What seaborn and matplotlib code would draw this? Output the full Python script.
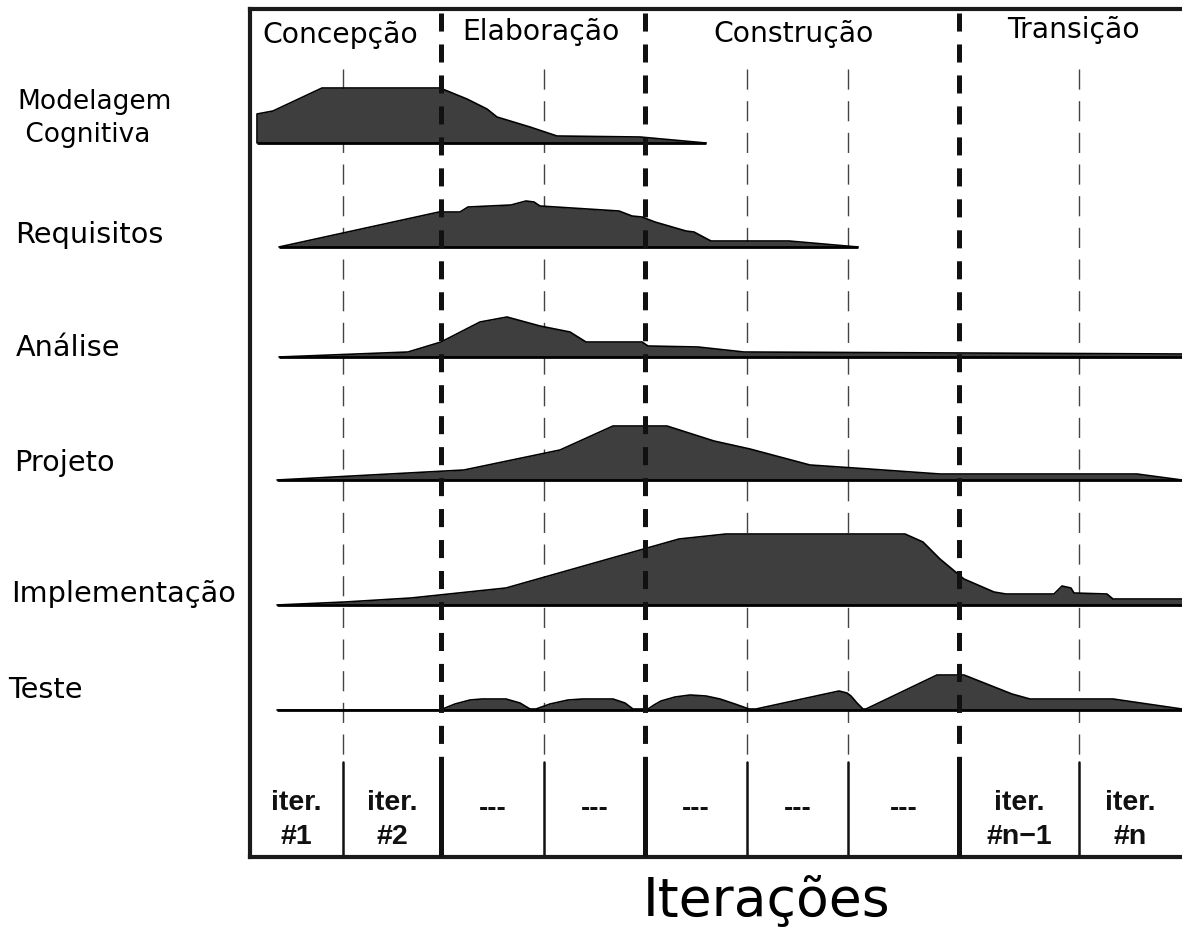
import matplotlib
matplotlib.use("Agg")
import numpy as np
import pandas as pd
import matplotlib.pyplot as plt
import seaborn as sns

# ---------------- data ----------------
# iteration column boundaries (time axis units, 0 = start of project)
boundaries = [0, 93, 191, 294, 395, 497, 598, 709, 829, 932]
phase_bounds = [191, 395, 709]          # thick dashed lines (phase changes)
iter_bounds = [93, 294, 497, 598, 829]  # thin dashed lines

phases = ["Concepção", "Elaboração", "Construção", "Transição"]
iter_labels = ["iter.\n#1", "iter.\n#2", "---", "---", "---", "---", "---",
               "iter.\n#n\u22121", "iter.\n#n"]
disciplines = ["Modelagem\n Cognitiva", "Requisitos", "Análise", "Projeto",
               "Implementação", "Teste"]

# effort profiles: time position and effort (height above the row baseline)
mod_x = [7, 7, 23, 72, 190, 217, 237, 247, 280, 307, 390, 456]
mod_h = [0, 29, 32, 55, 55, 44, 34, 26, 16, 7, 6, 0]

req_x = [29, 189, 210, 218, 261, 276, 284, 290, 369, 382, 392, 405, 436, 444, 461, 539, 608]
req_h = [0, 35, 35, 40, 42, 46, 45, 41, 36, 31, 30, 25, 16, 15, 6, 6, 0]

ana_x = [29, 158, 191, 230, 257, 290, 320, 336, 392, 398, 448, 494, 932]
ana_h = [0, 5, 15, 35, 40, 31, 25, 15, 15, 11, 10, 5, 3]

proj_x = [27, 65, 214, 310, 363, 417, 464, 500, 560, 619, 690, 887, 932]
proj_h = [0, 2, 10, 30, 54, 54, 39, 31, 15, 11, 6, 6, 0]

impl_x = [27, 95, 161, 256, 429, 476, 655, 673, 690, 714, 744, 756, 804, 812,
          821, 824, 857, 863, 932]
impl_h = [0, 3, 7, 17, 66, 71, 71, 63, 46, 26, 13, 11, 11, 19, 17, 12, 11, 6, 6]

test_x = [27, 190, 205, 220, 232, 256, 270, 280, 286, 300, 318, 333, 363, 375,
          383, 398, 404, 411, 425, 440, 456, 470, 485, 499, 506, 589, 597, 601,
          607, 613, 616, 687, 714, 762, 780, 863, 932]
test_h = [0, 0, 6, 10, 11, 11, 7, 1, 1, 6, 10, 11, 11, 7, 1, 1, 5, 9, 13, 15,
          14, 11, 6, 1, 1, 19, 17, 14, 7, 1, 1, 35, 35, 16, 11, 11, 1]

profiles_x = [mod_x, req_x, ana_x, proj_x, impl_x, test_x]
profiles_h = [mod_h, req_h, ana_h, proj_h, impl_h, test_h]

# ---------------- style / layout ----------------
W, H = 1182, 928
sns.set_theme(style="white")
plt.rcParams["font.family"] = ["DejaVu Sans"]
plt.rcParams["lines.scale_dashes"] = False

fig = plt.figure(figsize=(W / 100, H / 100), dpi=100)
ax = fig.add_axes([250 / W, (H - 858) / H, 932 / W, 848 / H])
ax.set_xlim(0, 932)
ax.set_ylim(848, 0)
ax.set_xticks([])
ax.set_yticks([])
for s in ["left", "top", "bottom"]:
    ax.spines[s].set_linewidth(3.0)
    ax.spines[s].set_color("#1a1a1a")
ax.spines["right"].set_visible(False)

row_base = [134, 238, 348, 471, 596, 701]   # baseline of each discipline row
fill_col = "#3e3e3e"

frames = []
for name, xs, hs, b in zip(disciplines, profiles_x, profiles_h, row_base):
    xs = np.asarray(xs, float)
    ys = b - np.asarray(hs, float)
    frames.append(pd.DataFrame({"t": xs, "y": ys, "disc": name,
                                "order": np.arange(len(xs))}))
    ax.fill_between(xs, ys, b, color=fill_col, lw=0, zorder=2)
    ax.plot([xs[0], xs[-1]], [b, b], color="black", lw=2.0, zorder=3,
            solid_capstyle="butt")
df = pd.concat(frames, ignore_index=True)
sns.lineplot(data=df, x="t", y="y", hue="disc", units="disc", estimator=None,
             sort=False, palette=["black"] * len(disciplines), lw=1.2,
             legend=False, ax=ax, zorder=3)
ax.set_xlabel("")
ax.set_ylabel("")

# vertical dashed iteration / phase lines
sep_top = 753
for xb in iter_bounds:
    ax.plot([xb, xb], [60, sep_top], color="#444444", lw=1.0,
            linestyle=(0, (14.5, 8.3)), zorder=1)
    ax.plot([xb, xb], [sep_top, 848], color="#111111", lw=1.8, zorder=1)
for xb in phase_bounds:
    ax.plot([xb, xb], [4, sep_top], color="#111111", lw=3.6,
            linestyle=(0, (13, 9.3)), zorder=4)
    ax.plot([xb, xb], [sep_top, 848], color="#111111", lw=3.6, zorder=4)

# iteration labels in the bottom row
ifam = ["Liberation Sans", "DejaVu Sans"]
for i, lab in enumerate(iter_labels):
    cx = (boundaries[i] + boundaries[i + 1]) / 2
    if lab == "---":
        ax.text(cx, 799, lab, ha="center", va="center", fontsize=20,
                fontweight="bold", family=ifam, color="#111111")
    else:
        l1, l2 = lab.split("\n")
        ax.text(cx, 800, l1, ha="center", va="baseline", fontsize=20.5,
                fontweight="bold", family=ifam, color="#111111")
        ax.text(cx, 834, l2, ha="center", va="baseline", fontsize=20.5,
                fontweight="bold", family=ifam, color="#111111")

def ftext(x, y, s, **kw):
    fig.text(x / W, 1 - y / H, s, va="baseline", color="black", **kw)

# phase titles
phase_pos = [(262, 43), (462, 40), (713, 42), (1007, 38)]
for p, (x, y) in zip(phases, phase_pos):
    ftext(x, y, p, fontsize=20.3)

# discipline labels
disc_pos = [(17, 109), (15, 243), (16, 356), (14, 471), (11, 602), (8, 698)]
for d, (x, y) in zip(disciplines, disc_pos):
    if "\n" in d:
        a, c = d.split("\n")
        ftext(x, y, a, fontsize=19)
        ftext(x, y + 33, c, fontsize=19)
    else:
        ftext(x, y, d, fontsize=20.7)

ftext(643, 916, "Iterações", fontsize=38.5)

fig.savefig("out.png", dpi=100)
